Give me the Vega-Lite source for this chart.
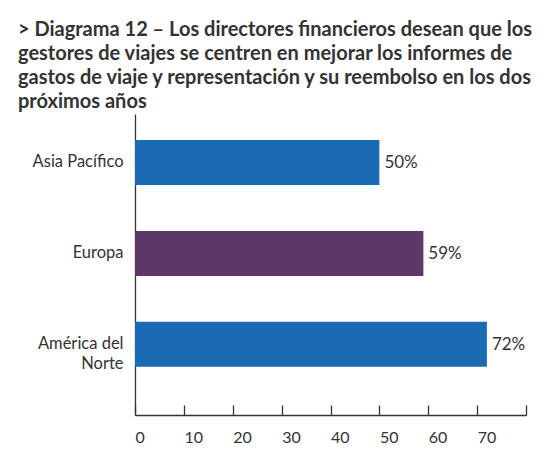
{
  "$schema": "https://vega.github.io/schema/vega-lite/v6.json",
  "width": 391,
  "height": 301,
  "autosize": {"type": "none"},
  "padding": {"left": 135, "top": 114, "right": 21, "bottom": 59},
  "background": "white",
  "title": {
    "text": [
      "> Diagrama 12 – Los directores financieros desean que los",
      "gestores de viajes se centren en mejorar los informes de",
      "gastos de viaje y representación y su reembolso en los dos",
      "próximos años"
    ],
    "anchor": "start",
    "frame": "group",
    "dx": -117,
    "offset": 2,
    "font": "Lato",
    "fontSize": 20,
    "fontWeight": "bold",
    "lineHeight": 24,
    "color": "#333333"
  },
  "data": {
    "values": [
      {"region": "Asia Pacífico", "value": 50, "label": "50%"},
      {"region": "Europa", "value": 59, "label": "59%"},
      {"region": "América del Norte", "value": 72, "label": "72%"}
    ]
  },
  "encoding": {
    "y": {
      "field": "region",
      "type": "nominal",
      "sort": null,
      "scale": {"paddingInner": 0.505, "paddingOuter": 0.407, "align": 0.35},
      "axis": {
        "title": null,
        "ticks": false,
        "domainColor": "#333333",
        "domainWidth": 1.3,
        "labelFont": "Lato",
        "labelFontSize": 16.5,
        "labelColor": "#333333",
        "labelPadding": 12,
        "labelLineHeight": 20,
        "labelExpr": "datum.value == 'América del Norte' ? ['América del', 'Norte'] : datum.label"
      }
    },
    "x": {
      "field": "value",
      "type": "quantitative",
      "scale": {"domain": [0, 80], "nice": false},
      "axis": {
        "title": null,
        "values": [0, 10, 20, 30, 40, 50, 60, 70, 80],
        "grid": false,
        "tickSize": -10,
        "tickColor": "#333333",
        "tickWidth": 1.3,
        "domainColor": "#333333",
        "domainWidth": 1.3,
        "labelFont": "Lato",
        "labelFontSize": 16,
        "labelColor": "#333333",
        "labelPadding": 24,
        "labelAlign": "left",
        "labelFlush": false,
        "labelExpr": "datum.value == 80 ? '' : datum.label"
      }
    }
  },
  "layer": [
    {
      "mark": {"type": "bar"},
      "encoding": {
        "color": {
          "field": "region",
          "type": "nominal",
          "scale": {
            "domain": ["Asia Pacífico", "Europa", "América del Norte"],
            "range": ["#1a6bb4", "#5d3766", "#1a6bb4"]
          },
          "legend": null
        }
      }
    },
    {
      "mark": {"type": "text", "align": "left", "dx": 5, "dy": 1, "font": "Lato", "fontSize": 17, "color": "#333333"},
      "encoding": {"text": {"field": "label"}}
    }
  ],
  "config": {"view": {"stroke": null}}
}
